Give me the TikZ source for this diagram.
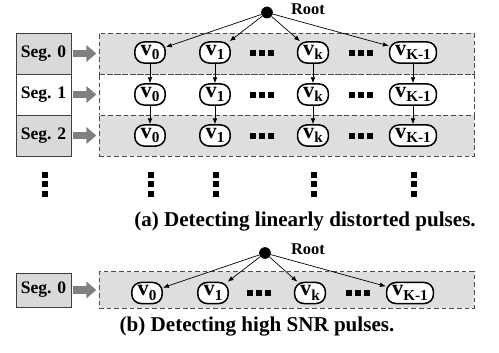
\documentclass[tikz,border=0pt]{standalone}
\usepackage{fontspec}
\setmainfont{Liberation Serif}
\usetikzlibrary{arrows.meta}

\newcommand{\vsub}[1]{v\raisebox{-0.2em}{\fontsize{13}{13}\selectfont #1}}
\newcommand{\sqrow}[2]{\foreach \d in {-9,0,9} \fill (#1+\d-3,#2-3) rectangle ++(6,6);}
\newcommand{\sqcol}[2]{\foreach \d in {-9.5,0,9.5} \fill (#1-3,#2+\d-3) rectangle ++(6,6);}

\begin{document}
\begin{tikzpicture}[x=0.03cm,y=-0.03cm]
\tikzstyle{vertex}=[draw=black,line width=1.3pt,rounded corners=8pt,fill=white,minimum height=18pt,minimum width=26pt,inner xsep=4.8pt,inner ysep=1pt,font=\fontsize{19}{19}\selectfont\bfseries]
\tikzstyle{seg}=[draw=black!75,line width=0.6pt,minimum width=47pt,minimum height=35pt,inner sep=0pt,font=\fontsize{15}{15}\selectfont\bfseries]
\tikzstyle{band}=[draw=black!70,line width=0.7pt,dash pattern=on 4pt off 2.5pt,minimum width=320pt,minimum height=35pt,inner sep=0pt]
\tikzstyle{root}=[circle,fill=black,minimum size=10pt,inner sep=0pt]
\tikzstyle{edge}=[line width=0.6pt,-{Latex[length=5pt,width=4pt]}]
\tikzstyle{feed}=[draw=black!50,line width=6.8pt,-{Triangle[length=8.5pt,width=14pt]},shorten <=1.5pt,shorten >=2pt]
\tikzstyle{label}=[font=\fontsize{14}{14}\selectfont\bfseries]
\tikzstyle{caption}=[font=\fontsize{18}{18}\selectfont\bfseries]
\useasboundingbox (0,0) rectangle (499,352);

\node[band,fill=black!13] (b0) at (286.5,53.5) {};
\node[band] (b1) at (286.5,94.5) {};
\node[band,fill=black!13] (b2) at (286.5,135.5) {};
\node[seg,fill=black!15] (s0) at (43.5,53.5) {Seg. 0};
\node[seg] (s1) at (43.5,94.5) {Seg. 1};
\node[seg,fill=black!15] (s2) at (43.5,135.5) {Seg. 2};
\draw[feed] (s0) -- (b0);
\draw[feed] (s1) -- (b1);
\draw[feed] (s2) -- (b2);

\node[root] (rt) at (267,12.5) {};
\node[label] (rtl) at (308,9) {Root};

\node[vertex] (a0) at (150,52.5) {\vsub{0}};
\node[vertex] (a1) at (215,52.5) {\vsub{1}};
\node[vertex] (ak) at (313,52.5) {\vsub{k}};
\node[vertex] (aK) at (413,52.5) {\vsub{K-1}};
\node[vertex] (c0) at (150,94.5) {\vsub{0}};
\node[vertex] (c1) at (215,94.5) {\vsub{1}};
\node[vertex] (ck) at (313,94.5) {\vsub{k}};
\node[vertex] (cK) at (413,94.5) {\vsub{K-1}};
\node[vertex] (d0) at (150,135.5) {\vsub{0}};
\node[vertex] (d1) at (215,135.5) {\vsub{1}};
\node[vertex] (dk) at (313,135.5) {\vsub{k}};
\node[vertex] (dK) at (413,135.5) {\vsub{K-1}};

\draw[edge] (rt) -- (a0);
\draw[edge] (rt) -- (a1);
\draw[edge] (rt) -- (ak);
\draw[edge] (rt) -- (aK);
\draw[edge] (a0) -- (c0);
\draw[edge] (a1) -- (c1);
\draw[edge] (ak) -- (ck);
\draw[edge] (aK) -- (cK);
\draw[edge] (c0) -- (d0);
\draw[edge] (c1) -- (d1);
\draw[edge] (ck) -- (dk);
\draw[edge] (cK) -- (dK);

\sqrow{262}{53}
\sqrow{361}{53}
\sqrow{262}{94.5}
\sqrow{361}{94.5}
\sqrow{262}{135.5}
\sqrow{361}{135.5}
\sqcol{44.5}{184}
\sqcol{150.5}{184}
\sqcol{215.5}{184}
\sqcol{313.5}{184}
\sqcol{413.5}{184}

\node[caption] (capa) at (305,222) {(a) Detecting linearly distorted pulses.};

\node[band,fill=black!13,minimum height=31pt] (e0) at (286.5,290) {};
\node[seg,fill=black!15,minimum height=29pt] (t0) at (43.5,290) {Seg. 0};
\draw[feed] (t0) -- (e0);
\node[root] (rt2) at (265,253) {};
\node[label] (rtl2) at (308,249) {Root};
\node[vertex] (f0) at (147,293) {\vsub{0}};
\node[vertex] (f1) at (213,293) {\vsub{1}};
\node[vertex] (fk) at (310,293) {\vsub{k}};
\node[vertex] (fK) at (410,293) {\vsub{K-1}};
\draw[edge] (rt2) -- (f0);
\draw[edge] (rt2) -- (f1);
\draw[edge] (rt2) -- (fk);
\draw[edge] (rt2) -- (fK);
\sqrow{259}{293}
\sqrow{357.5}{293}

\node[caption] (capb) at (257,327) {(b) Detecting high SNR pulses.};
\end{tikzpicture}
\end{document}
